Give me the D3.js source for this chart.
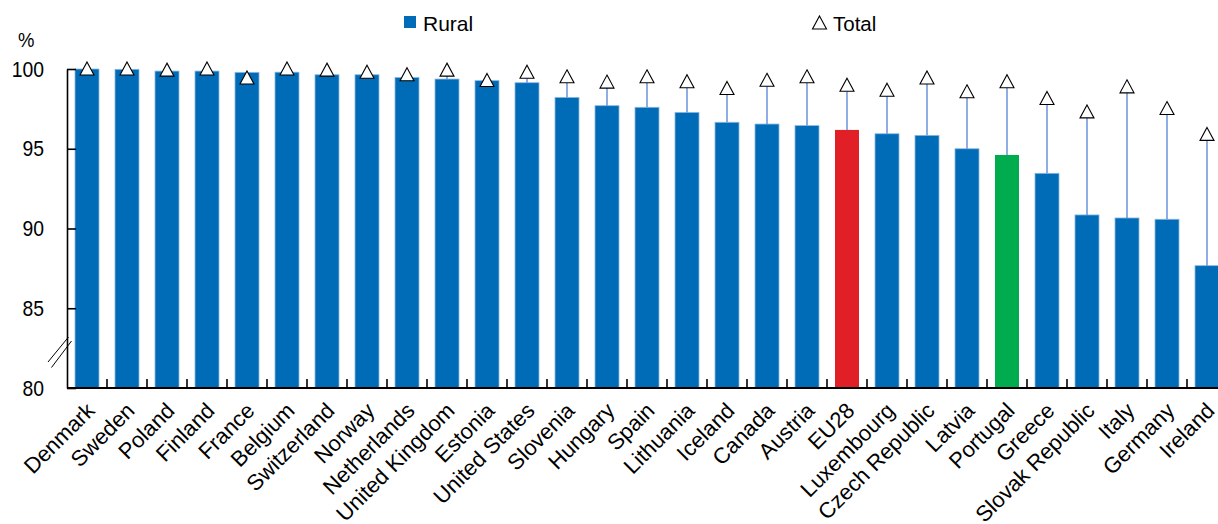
<!DOCTYPE html>
<html>
<head>
<meta charset="utf-8">
<script src="https://cdn.jsdelivr.net/npm/d3@7"></script>
<style>
  html, body { margin: 0; padding: 0; background: #fff; }
  svg { display: block; font-family: "Liberation Sans", Arial, sans-serif; }
</style>
</head>
<body>
<svg id="chart" width="1218" height="524"></svg>
<script>
const categories = ["Denmark","Sweden","Poland","Finland","France","Belgium","Switzerland","Norway","Netherlands","United Kingdom","Estonia","United States","Slovenia","Hungary","Spain","Lithuania","Iceland","Canada","Austria","EU28","Luxembourg","Czech Republic","Latvia","Portugal","Greece","Slovak Republic","Italy","Germany","Ireland"];
const rural = [100.0, 99.98, 99.87, 99.87, 99.79, 99.8, 99.64, 99.64, 99.47, 99.37, 99.27, 99.14, 98.22, 97.7, 97.6, 97.28, 96.66, 96.55, 96.45, 96.18, 95.94, 95.84, 95.0, 94.61, 93.46, 90.85, 90.66, 90.58, 87.67];
const total = [100.0, 100.0, 99.93, 100.0, 99.44, 100.0, 99.93, 99.8, 99.64, 99.93, 99.28, 99.8, 99.51, 99.18, 99.51, 99.2, 98.78, 99.29, 99.51, 98.98, 98.67, 99.44, 98.57, 99.2, 98.15, 97.31, 98.88, 97.52, 95.9];
const yTicks = [80, 85, 90, 95, 100];
const highlight = {"EU28": "#E11F26", "Portugal": "#00AC4E"};

const svg = d3.select("#chart");
const left = 67, baseY = 388, topY = 69;
const x = d3.scaleBand().domain(categories).range([left, left + 40 * categories.length]).paddingInner(0.4).paddingOuter(0.2);
const y = d3.scaleLinear().domain([80, 100]).range([baseY, topY]);
const step = x.step();

const data = categories.map((c, i) => ({c, r: rural[i], t: total[i]}));

// bars
svg.append("g").selectAll("rect").data(data).join("rect")
  .attr("x", d => x(d.c))
  .attr("y", d => y(d.r))
  .attr("width", x.bandwidth())
  .attr("height", d => y(80) - y(d.r))
  .attr("fill", d => highlight[d.c] || "#006BB6")
  .attr("stroke", d => highlight[d.c] ? "none" : "#8DB8E2")
  .attr("stroke-width", 0.8);

// stems
svg.append("g").selectAll("line").data(data.filter(d => d.t - d.r > 0.2)).join("line")
  .attr("x1", d => x(d.c) + x.bandwidth() / 2)
  .attr("x2", d => x(d.c) + x.bandwidth() / 2)
  .attr("y1", d => y(d.r))
  .attr("y2", d => y(d.t) + 6)
  .attr("stroke", "#5F8CD8")
  .attr("stroke-width", 1.4);

// triangles
const tri = "M0,-7L7,6L-7,6Z";
svg.append("g").selectAll("path").data(data).join("path")
  .attr("d", tri)
  .attr("transform", d => `translate(${x(d.c) + x.bandwidth() / 2},${y(d.t)})`)
  .attr("fill", "#fff")
  .attr("stroke", "#000")
  .attr("stroke-width", 1.1);

// y axis
const yAxis = d3.axisLeft(y).tickValues(yTicks).tickSizeInner(-9).tickSizeOuter(0).tickPadding(22);
const gy = svg.append("g").attr("transform", `translate(${left},0)`).call(yAxis);
gy.select(".domain").attr("stroke", "#000").attr("stroke-width", 1.6);
gy.selectAll(".tick line").attr("stroke", "#000").attr("stroke-width", 1.6);
gy.selectAll(".tick text")
  .attr("font-size", 22).attr("fill", "#000").attr("font-family", "Liberation Sans, Arial, sans-serif")
  .attr("x", -23 / 0.88).attr("transform", "scale(0.88,1)");

// axis break marks
svg.append("line").attr("x1", 48).attr("y1", 362).attr("x2", 68.5).attr("y2", 337).attr("stroke", "#000").attr("stroke-width", 1);
svg.append("line").attr("x1", 51.5).attr("y1", 367.5).attr("x2", 71.5).attr("y2", 341).attr("stroke", "#000").attr("stroke-width", 1);

// x axis
svg.append("line").attr("x1", left).attr("x2", 1218).attr("y1", baseY).attr("y2", baseY).attr("stroke", "#000").attr("stroke-width", 2);
const bounds = categories.slice(1).map(c => x(c) - (step - x.bandwidth()) / 2);
svg.append("g").selectAll("line").data(bounds).join("line")
  .attr("x1", d => d).attr("x2", d => d)
  .attr("y1", baseY - 9).attr("y2", baseY)
  .attr("stroke", "#000").attr("stroke-width", 1.6);

svg.append("g").selectAll("text").data(categories).join("text")
  .attr("transform", c => `translate(${x(c) + x.bandwidth() / 2 + 9},${baseY + 24}) rotate(-45)`)
  .attr("text-anchor", "end")
  .attr("font-size", 22)
  .attr("fill", "#000")
  .text(c => c);

// % label
svg.append("text").attr("x", 18 / 0.88).attr("y", 47).attr("font-size", 21).attr("transform", "scale(0.88,1)").attr("fill", "#000").text("%");

// legend
svg.append("rect").attr("x", 404).attr("y", 16).attr("width", 12).attr("height", 12).attr("fill", "#006BB6");
svg.append("text").attr("x", 423).attr("y", 30.5).attr("font-size", 21).attr("fill", "#000").text("Rural");
svg.append("path").attr("d", tri).attr("transform", "translate(819.5,23)").attr("fill", "#fff").attr("stroke", "#000").attr("stroke-width", 1.1);
svg.append("text").attr("x", 833).attr("y", 30.5).attr("font-size", 20.5).attr("fill", "#000").text("Total");
</script>
</body>
</html>
